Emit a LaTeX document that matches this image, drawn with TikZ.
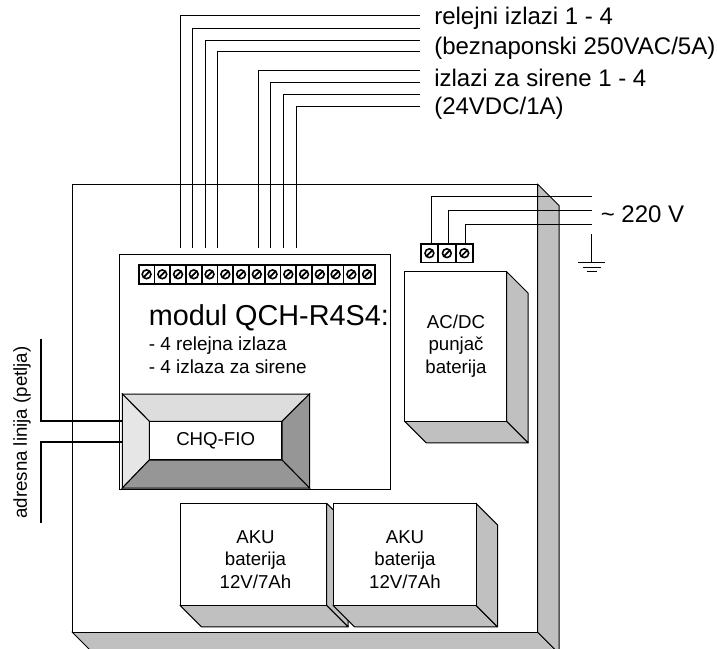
\documentclass[tikz,border=0pt]{standalone}
\usepackage{fontspec}
\setmainfont{Liberation Sans}
\usetikzlibrary{calc}
\definecolor{ksjena}{HTML}{C0C0C0}
\definecolor{ksvijetla}{HTML}{E6E6E6}
\definecolor{kgornja}{HTML}{DDDDDD}
\definecolor{ktamna}{HTML}{969696}
\tikzset{
  zica/.style={black, line width=0.75pt},
  debela/.style={black, line width=1.7pt},
  sjena/.style={fill=ksjena, draw=black, line width=0.75pt, line join=round},
  lice/.style={fill=white, draw=black, line width=0.75pt},
  stezaljka/.style={draw=black, fill=white, line width=1.4pt, inner sep=0pt,
    minimum width=#1*0.75pt, minimum height=14pt},
  natpis/.style={font=\fontsize{18}{20}\selectfont, anchor=base west, inner sep=0pt},
  opis/.style={font=\fontsize{14}{16.8}\selectfont, align=center, inner sep=0pt},
}
%% kutija s dubinom: x1 y1 x2 y2 dubina
\newcommand{\kutija}[5]{%
  \filldraw[sjena] (#1,#4) -- (#3,#4) -- (#3+#5,#4+#5) -- (#1+#5,#4+#5) -- cycle;
  \filldraw[sjena] (#3,#2) -- (#3+#5,#2+#5) -- (#3+#5,#4+#5) -- (#3,#4) -- cycle;
  \filldraw[lice] (#1,#2) rectangle (#3,#4);
}
%% stezaljka s vijkom: ime x y sirina
\newcommand{\vijak}[4]{%
  \node[stezaljka=#4] (#1) at (#2,#3) {};
  \draw[line width=1.2pt] (#2,#3) circle (3.3pt);
  \draw[line width=1.3pt] (#2-3.2,#3+3.2) -- (#2+3.2,#3-3.2);
}

\begin{document}
\begin{tikzpicture}[x=0.75pt, y=-0.75pt]

  \useasboundingbox (0,0) rectangle (717,649);
  \clip (0,0) rectangle (717,649);

  %% ormar
  \kutija{72}{184}{537.5}{632}{21.5}

  %% modul
  \filldraw[lice] (119,254.7) rectangle (390.7,489.5);
  \foreach \i in {1,...,15} {
    \pgfmathsetmacro{\tx}{138.7+15.75*(\i-0.5)}
    \vijak{t\i}{\tx}{274.3}{15.75}
  }

  \node[natpis, font=\fontsize{21.6}{24}\selectfont] (modul) at (148.5,325.7) {modul QCH-R4S4:};
  \node[natpis, font=\fontsize{14.2}{16}\selectfont] (rel) at (148.5,350) {- 4 relejna izlaza};
  \node[natpis, font=\fontsize{14.2}{16}\selectfont] (sir) at (148.5,373) {- 4 izlaza za sirene};

  %% CHQ-FIO
  \fill[kgornja, draw=black, line width=0.75pt] (122.3,394) -- (309.5,394) -- (282,421.3) -- (149.3,421.3) -- cycle;
  \fill[ksvijetla, draw=black, line width=0.75pt] (122.3,394) -- (149.3,421.3) -- (149.3,460) -- (122.3,488) -- cycle;
  \fill[ktamna, draw=black, line width=0.75pt] (309.5,394) -- (309.5,488) -- (282,460) -- (282,421.3) -- cycle;
  \fill[ktamna, draw=black, line width=0.75pt] (122.3,488) -- (149.3,460) -- (282,460) -- (309.5,488) -- cycle;
  \node[lice, minimum width=99.5pt, minimum height=29pt, inner sep=0pt, font=\fontsize{14}{16}\selectfont]
    (chq) at (215.65,440.65) {CHQ-FIO};

  %% punjac
  \kutija{404.7}{271.7}{506.7}{421.3}{21.5}
  \node[opis] (punjac) at (456,346) {AC/DC\\punjač\\baterija};

  %% akumulatori
  \kutija{180}{503.3}{326.7}{605.3}{21.5}
  \node[opis] (aku1) at (255.5,559.5) {AKU\\baterija\\12V/7Ah};
  \kutija{333}{503.3}{476}{605.3}{21.5}
  \node[opis] (aku2) at (405,559.5) {AKU\\baterija\\12V/7Ah};

  %% izlazi
  \foreach \wx/\wy [count=\i] in {180.3/16, 192.5/28.5, 205.5/40.5, 217/52, 258/70.5, 270/83, 283.5/95, 296/107} {
    \coordinate (iz\i) at (\wx,248);
    \coordinate (kr\i) at (420,\wy);
    \draw[zica] (iz\i) |- (kr\i);
  }
  \node[natpis] (rel1) at (434,25) {relejni izlazi 1 - 4};
  \node[natpis] (rel2) at (434,55) {(beznaponski 250VAC/5A)};
  \node[natpis] (sir1) at (434,87) {izlazi za sirene 1 - 4};
  \node[natpis] (sir2) at (434,115) {(24VDC/1A)};

  %% mreza
  \foreach \i in {1,2,3} {
    \pgfmathsetmacro{\mx}{420.7+17.43*(\i-0.5)}
    \vijak{m\i}{\mx}{253.2}{17.43}
  }
  \coordinate (f1) at (592,196.7);
  \coordinate (f2) at (592,210.3);
  \coordinate (f3) at (592,224);
  \draw[zica] ([xshift=1.5pt]m1.north) |- (f1);
  \draw[zica] ([xshift=1.5pt]m2.north) |- (f2);
  \draw[zica] ([xshift=1pt]m3.north) |- (f3);
  \node[natpis] (mreza) at (600.5,222) {\textasciitilde{} 220 V};

  %% uzemljenje
  \coordinate (g1) at (591.7,234);
  \coordinate (g2) at (591.7,262.3);
  \draw[zica] (g1) -- (g2);
  \draw[zica] (578,262.3) -- (605,262.3);
  \draw[zica] (582.7,267.3) -- (600.7,267.3);
  \draw[zica] (586.7,271.7) -- (597,271.7);

  %% adresna linija
  \coordinate (a1) at (40.7,339);
  \coordinate (a2) at (122.3,421);
  \coordinate (a3) at (40.7,523);
  \coordinate (a4) at (122.3,442.3);
  \draw[debela] (a1) |- (a2);
  \draw[debela] (a3) |- (a4);
  \node[opis, rotate=90] (adr) at (22,432.5) {adresna linija (petlja)};

\end{tikzpicture}
\end{document}
